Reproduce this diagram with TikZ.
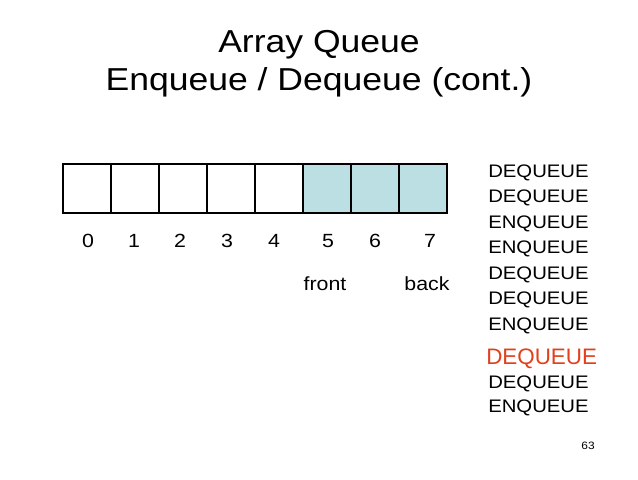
\documentclass[tikz,border=0pt]{standalone}
\usepackage{fontspec}
\setmainfont{Liberation Sans}[FakeStretch=1.12]
\newfontfamily\plainsans{Liberation Sans}
\usepackage{tikz}
\usetikzlibrary{positioning}
\definecolor{slotteal}{HTML}{BBDFE2}
\definecolor{curred}{HTML}{E2401C}

\begin{document}
\begin{tikzpicture}[
  x=0.75pt, y=-0.75pt,
  cell/.style={draw, rectangle, line width=2pt,
               minimum width=36pt, minimum height=36.75pt, inner sep=0pt},
  used/.style={cell, fill=slotteal},
  title/.style={anchor=base, inner sep=0pt, font=\fontsize{23.8}{28}\selectfont},
  idx/.style={anchor=base, inner sep=0pt, font=\fontsize{14.3}{17}\selectfont},
  op/.style={anchor=base west, inner sep=0pt, font=\fontsize{13.6}{16}\selectfont},
  opnow/.style={anchor=base west, inner sep=0pt, text=curred,
                font=\plainsans\fontsize{16.8}{20}\selectfont}
]
  \useasboundingbox (0,0) rectangle (638,479);

  %% Title
  \node[title] (t1) at (319,52) {Array Queue};
  \node[title] (t2) at (319,90) {Enqueue / Dequeue (cont.)};

  %% Array slots
  \foreach \i in {0,...,4}
    \node[cell] (c\i) at (87+48*\i,188.5) {};
  \foreach \i in {5,6,7}
    \node[used] (c\i) at (87+48*\i,188.5) {};

  %% Indices
  \foreach \i/\x in {0/88,1/134,2/180,3/227,4/274,5/328,6/375,7/430}
    \node[idx] (n\i) at (\x,247) {\i};
  \node[idx] (front) at (325,290) {front};
  \node[idx] (back) at (427,290) {back};

  %% Operations
  \node[op] (o1) at (488,177) {DEQUEUE};
  \node[op] (o2) at (488,202.5) {DEQUEUE};
  \node[op] (o3) at (488,228) {ENQUEUE};
  \node[op] (o4) at (488,253.5) {ENQUEUE};
  \node[op] (o5) at (488,279) {DEQUEUE};
  \node[op] (o6) at (488,304.5) {DEQUEUE};
  \node[op] (o7) at (488,330) {ENQUEUE};
  \node[opnow] (o8) at (486,364) {DEQUEUE};
  \node[op] (o9) at (488,388) {DEQUEUE};
  \node[op] (o10) at (488,412) {ENQUEUE};

  %% Page number
  \node[anchor=base, inner sep=0pt, font=\fontsize{8}{9}\selectfont] (pg) at (588,449) {63};
\end{tikzpicture}
\end{document}
